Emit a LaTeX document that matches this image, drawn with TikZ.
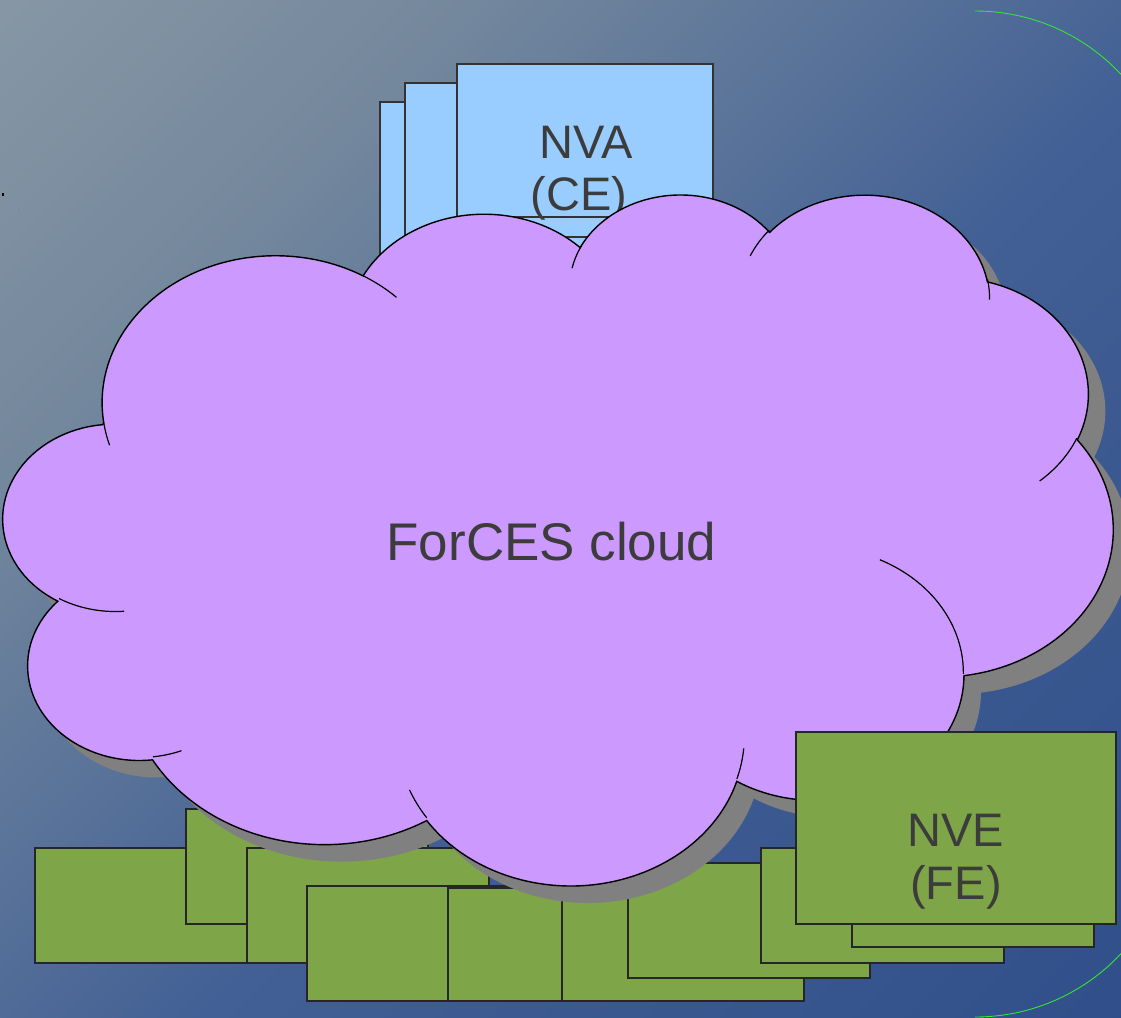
\documentclass[tikz,border=0pt]{standalone}
\usepackage{fontspec}
\setmainfont{Liberation Sans}
\definecolor{bgA}{RGB}{152,164,172}
\definecolor{bgB}{RGB}{116,136,157}
\definecolor{bgC}{RGB}{66,96,149}
\definecolor{bgD}{RGB}{40,70,132}
\definecolor{nvablue}{RGB}{153,204,255}
\definecolor{nvegreen}{RGB}{126,166,73}
\definecolor{cloudpurple}{RGB}{204,153,255}
\definecolor{shadowgray}{RGB}{128,128,128}
\definecolor{labelgray}{RGB}{60,60,60}
\definecolor{framegreen}{RGB}{51,230,51}
\pgfdeclarehorizontalshading{bgshade}{100bp}{color(0bp)=(bgA); color(30bp)=(bgB); color(55bp)=(bgC); color(100bp)=(bgD)}
\tikzset{
  nvabox/.style={fill=nvablue, draw=black!80, line width=1.2pt},
  nvebox/.style={fill=nvegreen, draw=black!85, line width=1.2pt},
  cloudline/.style={draw=black, line width=1.4pt},
  lbl/.style={text=labelgray, font=\fontsize{47}{56}\selectfont, inner sep=0pt, anchor=base},
  bigl/.style={text=labelgray, font=\fontsize{53}{62}\selectfont, inner sep=0pt, anchor=base},
  frameline/.style={draw=framegreen, line width=0.9pt},
  cloudshape/.style={insert path={
    (103.71,422.48)
    arc[start angle=-187.75,end angle=-59.64,x radius=173.39,y radius=146.93]
    arc[start angle=-152.02,end angle=-45.43,x radius=136.93,y radius=116.18]
    arc[start angle=-153.50,end angle=-37.32,x radius=112.08,y radius=95.05]
    arc[start angle=-139.70,end angle=-10.21,x radius=124.71,y radius=105.44]
    arc[start angle=-74.77,end angle=23.21,x radius=136.93,y radius=116.28]
    arc[start angle=-37.52,end angle=81.86,x radius=173.96,y radius=147.41]
    arc[start angle=0.46,end angle=121.98,x radius=148.54,y radius=125.78]
    arc[start angle=16.84,end angle=146.23,x radius=173.36,y radius=147.33]
    arc[start angle=58.98,end angle=150.20,x radius=198.22,y radius=168.56]
    arc[start angle=-276.69,end angle=-136.88,x radius=111.95,y radius=94.62]
    arc[start angle=-239.64,end angle=-95.89,x radius=111.56,y radius=95.05]
    -- cycle}}
}
\begin{document}
\begin{tikzpicture}[x=1pt,y=1pt]
\useasboundingbox (0,0) rectangle (1121,-1017);
\shade[shading=bgshade, shading angle=-45] (0,0) rectangle (1121,-1017);
\begin{scope}[yscale=-1]
  % small marks
  \fill[black] (2,193) rectangle (4,196);
  \fill[shadowgray] (18,209) rectangle (19,211);
  % NVA stack
  \draw[nvabox] (380,102) rectangle (636,256);
  \draw[nvabox] (405,83) rectangle (661,237);
  \draw[nvabox] (457,64) rectangle (713,217);
  \node[lbl] (nva) at (586,158) {NVA};
  \node[lbl] (ce) at (579,210) {(CE)};
  % NVE stack behind the cloud
  \draw[nvebox] (35,848) rectangle (277,963);
  \draw[nvebox] (186,809) rectangle (428,924);
  \draw[nvebox] (247,848) rectangle (489,963);
  \draw[nvebox] (307,886) rectangle (549,1001);
  \draw[nvebox] (448,888) rectangle (690,1001);
  \draw[nvebox] (562,886) rectangle (804,1001);
  \draw[nvebox] (628,863) rectangle (870,978);
  \draw[nvebox] (761,848) rectangle (1004,963);
  \draw[nvebox] (852,832) rectangle (1094,947);
  % cloud
  \fill[shadowgray, shift={(17,17)}, cloudshape];
  \path[fill=cloudpurple, cloudline, cloudshape];
  \draw[line width=1.2pt]
    (124.07,611.25) arc[start angle=85.55,end angle=120.36,x radius=111.56,y radius=95.05]
    (181.46,750.70) arc[start angle=68.24,end angle=83.31,x radius=111.95,y radius=94.62]
    (426.67,817.70) arc[start angle=146.23,end angle=158.47,x radius=173.36,y radius=147.33]
    (743.74,748.33) arc[start angle=4.74,end angle=16.84,x radius=173.36,y radius=147.33]
    (879.88,559.72) arc[start angle=-64.03,end angle=0.46,x radius=148.54,y radius=125.78]
    (1076.79,438.21) arc[start angle=23.21,end angle=49.65,x radius=136.93,y radius=116.28]
    (987.57,279.48) arc[start angle=-10.21,end angle=0.82,x radius=124.71,y radius=105.44]
    (750.19,255.91) arc[start angle=-156.29,end angle=-139.70,x radius=124.71,y radius=105.44]
    (572.07,268.19) arc[start angle=-167.73,end angle=-153.50,x radius=112.08,y radius=95.05]
    (363.04,275.74) arc[start angle=-59.64,end angle=-45.71,x radius=173.39,y radius=146.93]
    (109.54,445.16) arc[start angle=163.19,end angle=172.25,x radius=173.39,y radius=146.93];
  \node[bigl] (cloud) at (551.5,560) {ForCES cloud};
  % front NVE
  \draw[nvebox] (796,732) rectangle (1116,924);
  \node[lbl] (nve) at (956,846) {NVE};
  \node[lbl] (fe) at (956,899) {(FE)};
  % green frame corners
  \begin{scope}
    \clip (0,0) rectangle (1121,1017);
    \draw[frameline] (975,11) arc[start angle=-90,end angle=0,radius=200];
    \draw[frameline] (1175,817) arc[start angle=0,end angle=90,radius=200];
  \end{scope}
\end{scope}
\end{tikzpicture}
\end{document}
